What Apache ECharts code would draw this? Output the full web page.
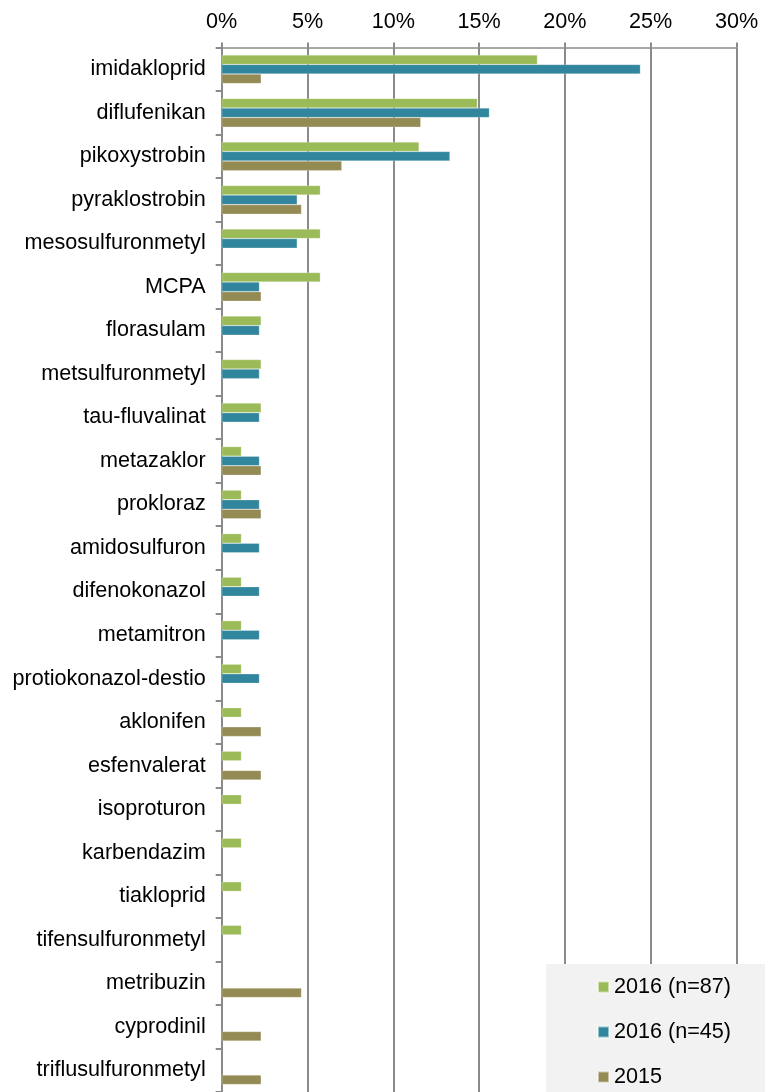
<!DOCTYPE html>
<html>
<head>
<meta charset="utf-8">
<script src="https://cdn.jsdelivr.net/npm/echarts@6/dist/echarts.min.js"></script>
<style>
html,body{margin:0;padding:0;background:#fff;}
#chart{width:765px;height:1092px;}
</style>
</head>
<body>
<div id="chart"></div>
<script>
const categories = ["imidakloprid","diflufenikan","pikoxystrobin","pyraklostrobin","mesosulfuronmetyl","MCPA","florasulam","metsulfuronmetyl","tau-fluvalinat","metazaklor","prokloraz","amidosulfuron","difenokonazol","metamitron","protiokonazol-destio","aklonifen","esfenvalerat","isoproturon","karbendazim","tiakloprid","tifensulfuronmetyl","metribuzin","cyprodinil","triflusulfuronmetyl"];
const series2016n87 = [18.4,14.9,11.5,5.75,5.75,5.75,2.3,2.3,2.3,1.15,1.15,1.15,1.15,1.15,1.15,1.15,1.15,1.15,1.15,1.15,1.15,null,null,null];
const series2016n45 = [24.4,15.6,13.3,4.4,4.4,2.2,2.2,2.2,2.2,2.2,2.2,2.2,2.2,2.2,2.2,null,null,null,null,null,null,null,null,null];
const series2015 = [2.3,11.6,7.0,4.65,null,2.3,null,null,null,2.3,2.3,null,null,null,null,2.3,2.3,null,null,null,null,4.65,2.3,2.3];
const seriesNames = ["2016 (n=87)","2016 (n=45)","2015"];
const xTicks = {min:0, max:30, interval:5};

const FONT = "'Liberation Sans', Arial, sans-serif";
const FS = 21.6;
const GRAY = "#8a8a8a";
const chart = echarts.init(document.getElementById('chart'));
const colors = ["#9BBB59","#31859C","#948A54"];
const data = [series2016n87, series2016n45, series2015];

chart.setOption({
  animation:false,
  textStyle:{fontFamily:FONT},
  grid:{left:221.7, right:28.5, top:47.5, height:1049, containLabel:false},
  legend:{
    orient:'horizontal',
    left:546, top:964, width:140,
    backgroundColor:'#f2f2f2',
    padding:[12,60,40,51],
    itemWidth:11, itemHeight:11, itemGap:23,
    icon:'rect',
    textStyle:{fontSize:FS, lineHeight:FS, color:'#000', fontFamily:FONT},
    data:seriesNames
  },
  xAxis:{
    type:'value', position:'top',
    min:xTicks.min, max:xTicks.max, interval:xTicks.interval,
    axisLine:{show:true, lineStyle:{color:GRAY, width:1.5}},
    axisTick:{show:true, length:5, lineStyle:{color:GRAY, width:2}},
    splitLine:{show:true, lineStyle:{color:GRAY, width:2}},
    axisLabel:{formatter:v=>v+'%', fontSize:FS, color:'#000', margin:14, fontFamily:FONT}
  },
  yAxis:{
    type:'category', inverse:true, data:categories,
    axisLine:{show:true, lineStyle:{color:GRAY, width:2}},
    axisTick:{show:true, length:6, lineStyle:{color:GRAY, width:2}},
    axisLabel:{fontSize:FS, color:'#000', margin:16, fontFamily:FONT}
  },
  series: seriesNames.map((n,i)=>({
    name:n, type:'bar', data:data[i],
    barGap:'0%', barCategoryGap:'34%',
    itemStyle:{color:colors[i], borderColor:'rgba(255,255,255,0.5)', borderWidth:0.5},
    z:3
  }))
});
</script>
</body>
</html>
